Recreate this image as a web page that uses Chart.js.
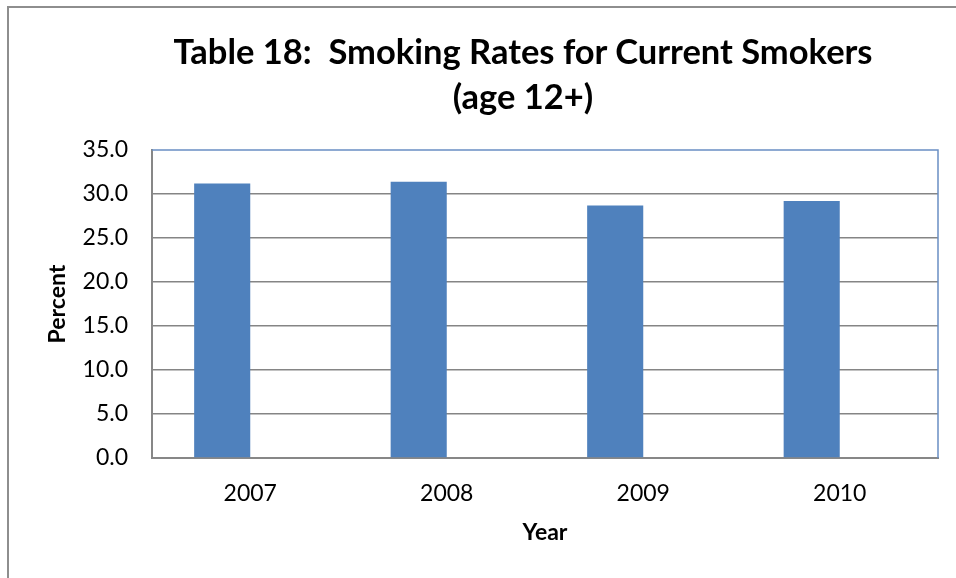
<!DOCTYPE html>
<html>
<head>
<meta charset="utf-8">
<script src="https://cdn.jsdelivr.net/npm/chart.js@4.4.0/dist/chart.umd.min.js"></script>
<style>
  body { margin: 0; background: #fff; overflow: hidden; }
  #frame { position: absolute; left: 7px; top: 6px; width: 1100px; height: 700px;
           border-left: 2px solid #8e8e8e; border-top: 2px solid #8e8e8e; }
  #wrap { position: absolute; left: 0; top: 0; width: 956px; height: 578px; }
  #title { position: absolute; left: 0; top: 28px; width: 1046px; text-align: center;
           font: bold 34.5px Lato, "Open Sans", sans-serif; line-height: 45px; color: #000;
           white-space: pre; }
</style>
</head>
<body>
<div id="frame"></div>
<div id="wrap"><canvas id="smokingChart" width="956" height="578"></canvas></div>
<div id="title"></div>
<script>
// Table 18 data
const years = ['2007', '2008', '2009', '2010'];
const smokingRates = [31.2, 31.4, 28.7, 29.2];
const emptySeries = [null, null, null, null];
const titleLines = ['Table 18:  Smoking Rates for Current Smokers', '(age 12+)'];

const FONT = 'Lato, "Open Sans", sans-serif';
const BLUE = '#4f81bd';

// title sits a bit left of the plot centre in the original, so it is a div
document.getElementById('title').textContent = titleLines.join('\n');

// blue outline on top and right of plot area, like Excel
const plotBorder = {
    id: 'plotBorder',
    afterDatasetsDraw(chart) {
        const { ctx, chartArea } = chart;
        ctx.save();
        ctx.strokeStyle = '#6a8fc4';
        ctx.lineWidth = 1.5;
        ctx.beginPath();
        ctx.moveTo(chartArea.left, chartArea.top);
        ctx.lineTo(chartArea.right, chartArea.top);
        ctx.lineTo(chartArea.right, chartArea.bottom);
        ctx.stroke();
        ctx.restore();
    }
};

const ctx = document.getElementById('smokingChart').getContext('2d');
new Chart(ctx, {
    type: 'bar',
    data: {
        labels: years,
        datasets: [{
            label: 'Current Smokers',
            data: smokingRates,
            backgroundColor: BLUE,
            borderWidth: 0
        }, {
            label: '',
            data: emptySeries,
            backgroundColor: BLUE
        }]
    },
    options: {
        responsive: false,
        animation: false,
        layout: { padding: { left: 0, right: 18, top: 150, bottom: 0 } },
        datasets: { bar: { categoryPercentage: 0.571, barPercentage: 1 } },
        plugins: {
            legend: { display: false },
            tooltip: { enabled: false }
        },
        scales: {
            x: {
                grid: { display: false, drawTicks: false },
                border: { color: '#878787', width: 2 },
                ticks: { color: '#000', padding: 22, font: { family: FONT, size: 23 } },
                title: {
                    display: true, text: 'Year', color: '#000',
                    font: { family: FONT, size: 23, weight: 'bold' },
                    padding: { top: 0, bottom: 32 }
                },
                afterFit(scale) { scale.height = 120; }
            },
            y: {
                min: 0, max: 35,
                grid: {
                    drawTicks: false,
                    color: c => (c.tick && c.tick.value === 35 ? 'rgba(0,0,0,0)' : '#858585'),
                    lineWidth: 1.5
                },
                border: { color: '#878787', width: 2 },
                ticks: {
                    stepSize: 5, color: '#000', padding: 24,
                    font: { family: FONT, size: 23 },
                    callback: v => v.toFixed(1)
                },
                title: {
                    display: true, text: 'Percent', color: '#000',
                    font: { family: FONT, size: 23, weight: 'bold' },
                    padding: { top: 44, bottom: 0 }
                },
                afterFit(scale) { scale.width = 152; }
            }
        }
    },
    plugins: [plotBorder]
});
</script>
</body>
</html>
